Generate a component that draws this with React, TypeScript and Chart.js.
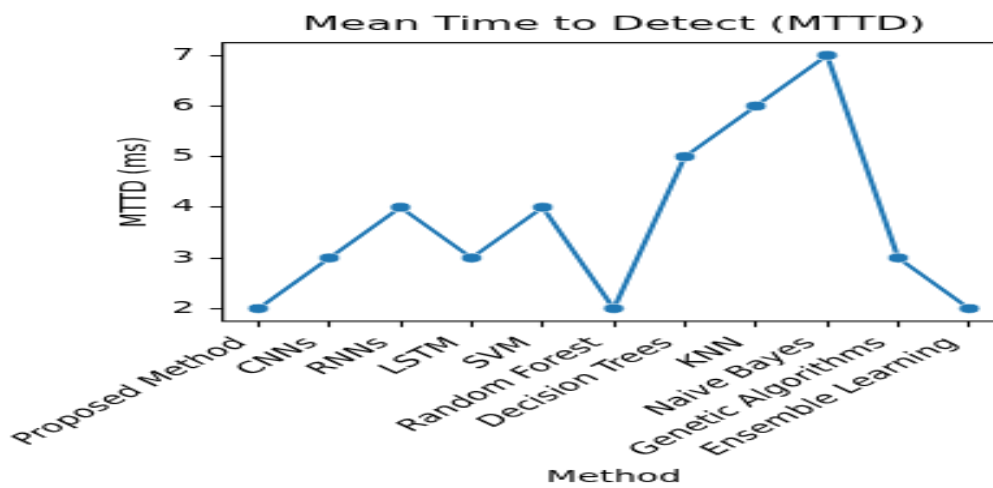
import { useEffect, useRef } from 'react';
import { Chart, registerables } from 'chart.js';

Chart.register(...registerables);

// Detection methods and their mean time to detect, in milliseconds
const methods = [
  'Proposed Method',
  'CNNs',
  'RNNs',
  'LSTM',
  'SVM',
  'Random Forest',
  'Decision Trees',
  'KNN',
  'Naive Bayes',
  'Genetic Algorithms',
  'Ensemble Learning',
];
const mttdValues = [2, 3, 4, 3, 4, 2, 5, 6, 7, 3, 2];
const yTickValues = [2, 3, 4, 5, 6, 7];
const yRange = [1.75, 7.25];

const chartTitle = 'Mean Time to Detect (MTTD)';
const xAxisTitle = 'Method';
const yAxisTitle = 'MTTD (ms)';

// The figure is drawn at a small size and stretched to fill the page
const CANVAS_W = 400;
const CANVAS_H = 407;
const STRETCH_X = 2.6;
const STRETCH_Y = 488 / CANVAS_H;

const FONT = 'DejaVu Sans';
const LINE_BLUE = '#1f77b4';

// Box around the plotting area
const framePlugin = {
  id: 'axesFrame',
  afterDraw(chart: any) {
    const { ctx, chartArea: a } = chart;
    ctx.save();
    ctx.strokeStyle = '#000';
    ctx.lineWidth = 1.1;
    ctx.strokeRect(a.left, a.top, a.right - a.left, a.bottom - a.top);
    ctx.restore();
  },
};

export default function App() {
  const canvasRef = useRef<HTMLCanvasElement | null>(null);

  useEffect(() => {
    const canvas = canvasRef.current;
    if (!canvas) return;
    const chart = new Chart(canvas, {
      type: 'line',
      data: {
        labels: methods,
        datasets: [
          {
            label: 'MTTD',
            data: mttdValues,
            borderColor: LINE_BLUE,
            backgroundColor: LINE_BLUE,
            borderWidth: 2.1,
            pointRadius: 4.1,
            pointBackgroundColor: LINE_BLUE,
            pointBorderColor: '#ffffff',
            pointBorderWidth: 0.7,
            tension: 0,
          },
        ],
      },
      options: {
        animation: false,
        responsive: false,
        devicePixelRatio: 1,
        layout: { padding: { left: 0, right: 13.54, top: 0, bottom: 0 } },
        plugins: {
          legend: { display: false },
          tooltip: { enabled: false },
          title: {
            display: true,
            text: chartTitle,
            fullSize: false,
            color: '#000',
            font: { family: FONT, size: 16.67, weight: 'normal' },
            padding: { top: 10.8, bottom: 4.8 },
          },
        },
        scales: {
          x: {
            type: 'category',
            offset: true,
            grid: {
              display: true,
              drawOnChartArea: false,
              drawTicks: true,
              tickLength: 4.86,
              tickColor: '#000',
              tickWidth: 1.1,
            },
            border: { display: false },
            ticks: {
              color: '#000',
              font: { family: FONT, size: 13.9 },
              minRotation: 45,
              maxRotation: 45,
              autoSkip: false,
              padding: 5.5,
              labelOffset: -6.4,
            },
            title: {
              display: true,
              text: xAxisTitle,
              color: '#000',
              font: { family: FONT, size: 13.9 },
              padding: { top: 0, bottom: 0 },
            },
            afterFit(scale: any) {
              scale.height = 139.1;
            },
          },
          y: {
            type: 'linear',
            min: yRange[0],
            max: yRange[1],
            grid: {
              display: true,
              drawOnChartArea: false,
              drawTicks: true,
              tickLength: 4.86,
              tickColor: '#000',
              tickWidth: 1.1,
            },
            border: { display: false },
            ticks: {
              color: '#000',
              font: { family: FONT, size: 13.9 },
              padding: 6,
            },
            afterBuildTicks(scale: any) {
              scale.ticks = yTickValues.map((v) => ({ value: v }));
            },
            title: {
              display: true,
              text: yAxisTitle,
              color: '#000',
              font: { family: FONT, size: 13.9 },
              padding: { top: 43.9, bottom: 0 },
            },
            afterFit(scale: any) {
              scale.width = 85.65;
            },
          },
        },
      },
      plugins: [framePlugin],
    });
    return () => chart.destroy();
  }, []);

  return (
    <div
      style={{
        position: 'fixed',
        left: 0,
        top: 0,
        width: 993,
        height: 488,
        overflow: 'hidden',
        background: '#ffffff',
      }}
    >
      <canvas
        ref={canvasRef}
        width={CANVAS_W}
        height={CANVAS_H}
        style={{
          display: 'block',
          transform: `scale(${STRETCH_X}, ${STRETCH_Y})`,
          transformOrigin: '0 0',
        }}
      />
    </div>
  );
}
